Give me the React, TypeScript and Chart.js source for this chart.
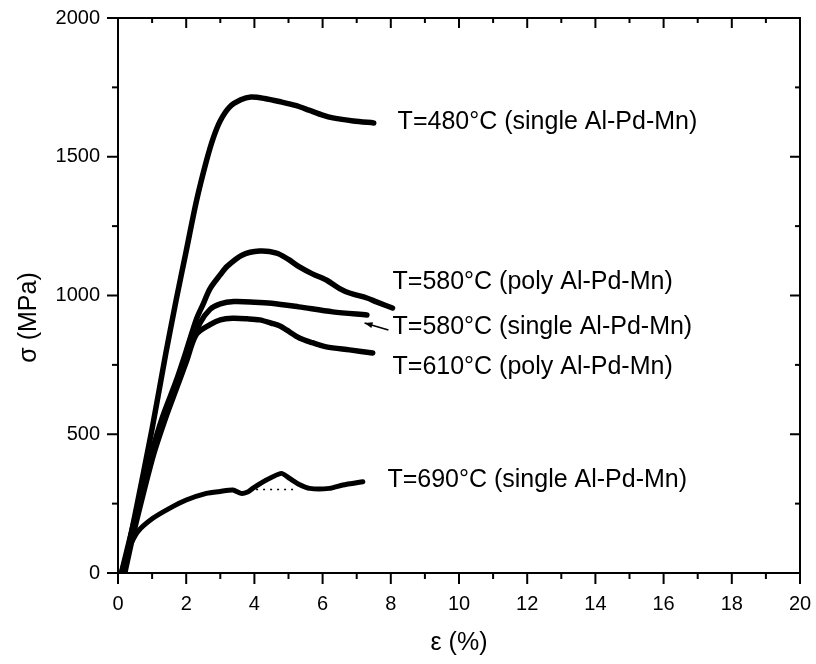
import React, { useEffect, useRef } from 'react';
import { Chart, registerables } from 'chart.js';

Chart.register(...registerables);

const FONT = '"Liberation Sans", Arial, Helvetica, sans-serif';

const xMajorTicks = [0, 2, 4, 6, 8, 10, 12, 14, 16, 18, 20];
const xMinorTicks = [1, 3, 5, 7, 9, 11, 13, 15, 17, 19];
const yMajorTicks = [0, 500, 1000, 1500, 2000];
const yMinorTicks = [250, 750, 1250, 1750];

const yTitle = 'σ (MPa)';
const xTitle = 'ε (%)';

// T=480°C single Al-Pd-Mn
const s480x = [0.15, 0.5, 1.0, 1.4, 1.7, 2.0, 2.3, 2.6, 2.8, 3.0, 3.27, 3.6, 3.9, 4.3, 4.8, 5.2, 5.6, 6.0, 6.3, 6.9, 7.5];
const s480y = [0, 210, 520, 790, 980, 1160, 1340, 1488, 1570, 1630, 1679, 1705, 1715, 1710, 1697, 1685, 1668, 1650, 1640, 1629, 1622];

// T=580°C poly Al-Pd-Mn
const p580x = [0.1, 0.4, 0.7, 1.0, 1.3, 1.7, 2.0, 2.3, 2.5, 2.7, 3.0, 3.2, 3.65, 4.15, 4.65, 5.0, 5.32, 5.7, 6.11, 6.5, 6.79, 7.3, 7.58, 8.05];
const p580y = [0, 150, 300, 440, 560, 690, 800, 915, 970, 1025, 1075, 1105, 1146, 1160, 1153, 1130, 1103, 1078, 1056, 1025, 1009, 991, 977, 955];

// T=580°C single Al-Pd-Mn
const s580x = [0.15, 0.4, 0.7, 1.0, 1.4, 1.7, 2.0, 2.4, 2.7, 3.0, 3.4, 4.0, 4.5, 5.3, 6.3, 7.3];
const s580y = [0, 140, 290, 430, 580, 680, 780, 900, 950, 970, 978, 976, 972, 959, 941, 930];

// T=610°C poly Al-Pd-Mn
const p610x = [0.2, 0.45, 0.75, 1.05, 1.4, 1.7, 2.0, 2.3, 2.7, 3.0, 3.36, 3.8, 4.15, 4.5, 4.75, 4.94, 5.32, 5.7, 6.11, 6.79, 7.47];
const p610y = [0, 140, 290, 430, 560, 660, 760, 860, 895, 912, 918, 916, 912, 900, 890, 876, 847, 830, 815, 804, 793];

// T=690°C single Al-Pd-Mn
const s690x = [0.1, 0.3, 0.58, 1.02, 1.51, 2.0, 2.59, 3.0, 3.37, 3.61, 3.8, 3.95, 4.35, 4.79, 5.03, 5.3, 5.62, 6.2, 6.59, 7.18];
const s690y = [0, 85, 149, 197, 233, 263, 287, 294, 299, 287, 292, 305, 335, 359, 341, 320, 305, 305, 317, 329];

// dotted baseline under the 690°C bump
const dotX = [4.05, 5.23];
const dotY = [301, 301];

// curve labels (anchored at left/middle, in data units)
const labelTexts = [
  'T=480°C (single Al-Pd-Mn)',
  'T=580°C (poly Al-Pd-Mn)',
  'T=580°C (single Al-Pd-Mn)',
  'T=610°C (poly Al-Pd-Mn)',
  'T=690°C (single Al-Pd-Mn)',
];
const labelX = [8.2, 8.05, 8.05, 8.05, 7.9];
const labelY = [1626, 1050, 885, 743, 335];

// arrow from label to the 580°C single curve
const arrowX = [7.93, 7.23];
const arrowY = [876, 901];

const pts = (xs: number[], ys: number[]) => xs.map((x, i) => ({ x, y: ys[i] }));

const decor = {
  id: 'decor',
  afterDatasetsDraw(chart: any) {
    const { ctx, chartArea: a, scales } = chart;
    const xs = scales.x;
    const ys = scales.y;
    ctx.save();
    ctx.strokeStyle = '#000';
    ctx.lineWidth = 2;
    ctx.strokeRect(a.left, a.top, a.right - a.left, a.bottom - a.top);
    const seg = (x1: number, y1: number, x2: number, y2: number) => {
      ctx.beginPath();
      ctx.moveTo(x1, y1);
      ctx.lineTo(x2, y2);
      ctx.stroke();
    };
    xMajorTicks.forEach((v) => {
      const p = xs.getPixelForValue(v);
      seg(p, a.bottom, p, a.bottom + 11);
      seg(p, a.top, p, a.top + 10);
    });
    xMinorTicks.forEach((v) => {
      const p = xs.getPixelForValue(v);
      seg(p, a.bottom, p, a.bottom + 6);
      seg(p, a.top, p, a.top + 5);
    });
    yMajorTicks.forEach((v) => {
      const p = ys.getPixelForValue(v);
      seg(a.left - 11, p, a.left, p);
      seg(a.right - 10, p, a.right, p);
    });
    yMinorTicks.forEach((v) => {
      const p = ys.getPixelForValue(v);
      seg(a.left - 6, p, a.left, p);
      seg(a.right - 5, p, a.right, p);
    });

    // curve labels
    ctx.fillStyle = '#000';
    ctx.font = '25px ' + FONT;
    ctx.textAlign = 'left';
    ctx.textBaseline = 'middle';
    labelTexts.forEach((t, i) => {
      ctx.fillText(t, xs.getPixelForValue(labelX[i]), ys.getPixelForValue(labelY[i]));
    });

    // y axis title (sits a bit below the plot's middle, as in the original)
    ctx.save();
    ctx.translate(29, (a.top + a.bottom) / 2 + 22);
    ctx.rotate(-Math.PI / 2);
    ctx.textAlign = 'center';
    ctx.textBaseline = 'middle';
    ctx.fillText(yTitle, 0, 0);
    ctx.restore();

    // arrow
    const x1 = xs.getPixelForValue(arrowX[0]);
    const y1 = ys.getPixelForValue(arrowY[0]);
    const x2 = xs.getPixelForValue(arrowX[1]);
    const y2 = ys.getPixelForValue(arrowY[1]);
    ctx.lineWidth = 1.5;
    seg(x1, y1, x2, y2);
    const ang = Math.atan2(y2 - y1, x2 - x1);
    const L = 8;
    const W = 3;
    ctx.beginPath();
    ctx.moveTo(x2, y2);
    ctx.lineTo(x2 - L * Math.cos(ang) + W * Math.sin(ang), y2 - L * Math.sin(ang) - W * Math.cos(ang));
    ctx.lineTo(x2 - L * Math.cos(ang) - W * Math.sin(ang), y2 - L * Math.sin(ang) + W * Math.cos(ang));
    ctx.closePath();
    ctx.fill();
    ctx.restore();
  },
};

export default function App() {
  const ref = useRef<HTMLCanvasElement | null>(null);
  useEffect(() => {
    if (!ref.current) return;
    const curve = (xs: number[], ys: number[], w: number, tension: number) => ({
      data: pts(xs, ys),
      showLine: true,
      borderColor: '#000',
      backgroundColor: '#000',
      borderWidth: w,
      pointRadius: 0,
      tension,
      borderCapStyle: 'round',
      borderJoinStyle: 'round',
      fill: false,
    });
    const chart = new Chart(ref.current, {
      type: 'scatter',
      data: {
        datasets: [
          curve(s480x, s480y, 5.5, 0.3),
          curve(p580x, p580y, 5.5, 0.3),
          curve(s580x, s580y, 5.5, 0.3),
          curve(p610x, p610y, 5.5, 0.3),
          curve(s690x, s690y, 5, 0.2),
          {
            data: pts(dotX, dotY),
            showLine: true,
            borderColor: '#000',
            borderWidth: 1.5,
            borderDash: [2, 5],
            pointRadius: 0,
            fill: false,
          },
        ] as any,
      },
      options: {
        responsive: false,
        animation: false,
        maintainAspectRatio: false,
        layout: { padding: { left: 0, right: 16, top: 18, bottom: 0 } },
        plugins: { legend: { display: false }, tooltip: { enabled: false } },
        scales: {
          x: {
            type: 'linear',
            min: 0,
            max: 20,
            grid: { display: false, drawTicks: false },
            border: { display: false },
            afterBuildTicks: (s: any) => {
              s.ticks = xMajorTicks.map((v) => ({ value: v }));
            },
            afterFit: (s: any) => {
              s.height = 91;
              s.paddingLeft = 0;
              s.paddingRight = 0;
            },
            ticks: {
              padding: 19,
              color: '#000',
              font: { family: FONT, size: 20 },
              maxRotation: 0,
              callback: (v: any) => String(v),
            },
            title: {
              display: true,
              text: xTitle,
              color: '#000',
              font: { family: FONT, size: 25 },
              padding: { top: 0, bottom: 6 },
            },
          },
          y: {
            type: 'linear',
            min: 0,
            max: 2000,
            grid: { display: false, drawTicks: false },
            border: { display: false },
            afterBuildTicks: (s: any) => {
              s.ticks = yMajorTicks.map((v) => ({ value: v }));
            },
            afterFit: (s: any) => {
              s.width = 118;
              s.paddingTop = 0;
              s.paddingBottom = 0;
            },
            ticks: {
              padding: 18,
              color: '#000',
              font: { family: FONT, size: 20 },
              callback: (v: any) => String(v),
            },
            title: { display: false },
          },
        },
      } as any,
      plugins: [decor],
    });
    return () => chart.destroy();
  }, []);
  return (
    <div style={{ position: 'absolute', left: 0, top: 0, width: 816, height: 664, background: '#fff' }}>
      <canvas ref={ref} width={816} height={664} style={{ display: 'block' }} />
    </div>
  );
}
